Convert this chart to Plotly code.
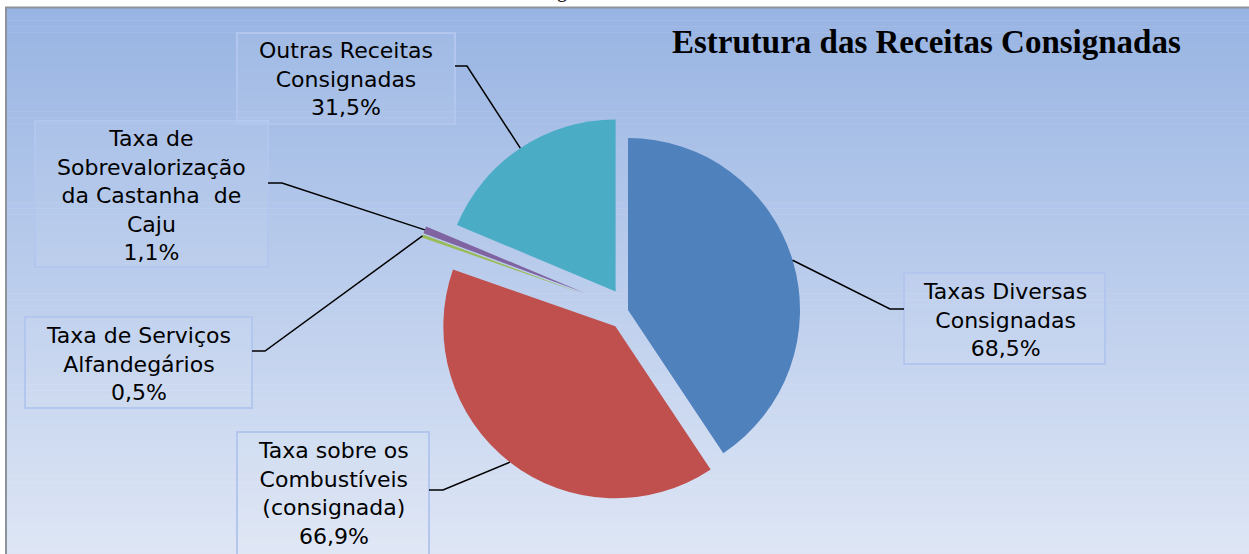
import numpy as np
import plotly.graph_objects as go

W, H = 1249, 554

# ---------------- data ----------------
categories = [
    "Taxas Diversas Consignadas",
    "Taxa sobre os Combustíveis (consignada)",
    "Taxa de Serviços Alfandegários",
    "Taxa de Sobrevalorização da Castanha de Caju",
    "Outras Receitas Consignadas",
]
values = [68.5, 66.9, 0.5, 1.1, 31.5]
pct_labels = ["68,5%", "66,9%", "0,5%", "1,1%", "31,5%"]
label_lines = [
    "Taxas Diversas<br>Consignadas",
    "Taxa sobre os<br>Combustíveis<br>(consignada)",
    "Taxa de Serviços<br>Alfandegários",
    "Taxa de<br>Sobrevalorização<br>da Castanha  de<br>Caju",
    "Outras Receitas<br>Consignadas",
]
title_text = "Estrutura das Receitas Consignadas"

# ---------------- style / layout constants ----------------
colors = ["#4F81BD", "#C0504D", "#9BBB59", "#8064A2", "#4BACC6"]
pulls = [0.0, 0.12, 0.27, 0.27, 0.13]
PIE_CX, PIE_CY, PIE_R = 628, 310, 172  # px
boxes = [(904, 273, 1105, 364), (237, 432, 429, 580), (25, 317, 252, 408),
         (35, 121, 268, 267), (237, 33, 455, 124)]
text_centers = [(1005, 320), (333, 493), (138, 364), (151, 195), (346, 79)]
elbows = [((904, 309), (890, 309)), ((429, 490), (443, 490)), ((252, 351), (265, 351)),
          ((268, 183), (282, 183)), ((455, 66), (467, 66))]


def px(x):
    return x / W


def py(y):
    return 1 - y / H


maxp = max(pulls)
half = PIE_R * (1 + maxp)
dom_x = [px(PIE_CX - half), px(PIE_CX + half)]
dom_y = [py(PIE_CY + half), py(PIE_CY - half)]

fig = go.Figure()
fig.add_trace(go.Pie(
    labels=categories, values=values, sort=False, direction="clockwise", rotation=0,
    marker=dict(colors=colors, line=dict(width=0)), pull=pulls,
    textinfo="none", hoverinfo="skip", showlegend=False,
    domain=dict(x=dom_x, y=dom_y),
))

shapes = []
# gradient background
top_c = np.array([152, 180, 227])
bot_c = np.array([222, 230, 245])
N = 90
y0, y1 = 8, H
for i in range(N):
    a = y0 + (y1 - y0) * i / N
    b = y0 + (y1 - y0) * (i + 1) / N
    t = (i + 0.5) / N
    c = (top_c + (bot_c - top_c) * t).round().astype(int)
    shapes.append(dict(type="rect", xref="paper", yref="paper", layer="below",
                       x0=px(6), x1=1, y0=py(b) - 0.001, y1=py(a),
                       line=dict(width=0), fillcolor=f"rgb({c[0]},{c[1]},{c[2]})"))
# frame lines
shapes.append(dict(type="line", xref="paper", yref="paper", layer="below",
                   x0=px(5), x1=1, y0=py(7.5), y1=py(7.5), line=dict(color="#8E929A", width=2)))
shapes.append(dict(type="line", xref="paper", yref="paper", layer="below",
                   x0=px(6), x1=px(6), y0=0, y1=py(7), line=dict(color="#8E929A", width=2)))

# label boxes
for (bx0, by0, bx1, by1) in boxes:
    shapes.append(dict(type="rect", xref="paper", yref="paper", layer="above",
                       x0=px(bx0), x1=px(bx1), y0=py(by1), y1=py(by0),
                       line=dict(color="#B3C7EE", width=2), fillcolor="rgba(255,255,255,0.06)"))

# leader lines from each slice mid-angle to its label box
total = sum(values)
cum = np.cumsum([0] + values[:-1])
for i, v in enumerate(values):
    th = np.deg2rad((cum[i] + v / 2) / total * 360)
    rr = PIE_R * (1 + pulls[i])
    sx = PIE_CX + rr * np.sin(th)
    sy = PIE_CY - rr * np.cos(th)
    (ex, ey), (kx, ky) = elbows[i]
    path = f"M {px(sx)} {py(sy)} L {px(kx)} {py(ky)} L {px(ex)} {py(ey)}"
    shapes.append(dict(type="path", xref="paper", yref="paper", path=path,
                       line=dict(color="black", width=1.5)))

annotations = []
for i in range(len(values)):
    cx, cy = text_centers[i]
    annotations.append(dict(
        x=px(cx), y=py(cy), xref="paper", yref="paper", xanchor="center", yanchor="middle",
        text=label_lines[i] + "<br>" + pct_labels[i], showarrow=False, align="center",
        font=dict(family="DejaVu Sans", size=22, color="black")))

annotations.append(dict(
    x=px(926), y=py(42), xref="paper", yref="paper", xanchor="center", yanchor="middle",
    text="<b>" + title_text + "</b>", showarrow=False,
    font=dict(family="Liberation Serif", size=33, color="black")))
# cut-off text fragment above the chart (as in the original)
annotations.append(dict(
    x=px(562), y=py(-9), xref="paper", yref="paper", xanchor="center", yanchor="middle",
    text="g", showarrow=False, font=dict(family="Liberation Serif", size=20, color="black")))

fig.update_layout(
    width=W, height=H, margin=dict(l=0, r=0, t=0, b=0),
    paper_bgcolor="white", plot_bgcolor="white",
    shapes=shapes, annotations=annotations,
)

fig.write_html("out.html", config={"displayModeBar": False},
               post_script="document.body.style.margin='0';document.body.style.overflow='hidden';")
